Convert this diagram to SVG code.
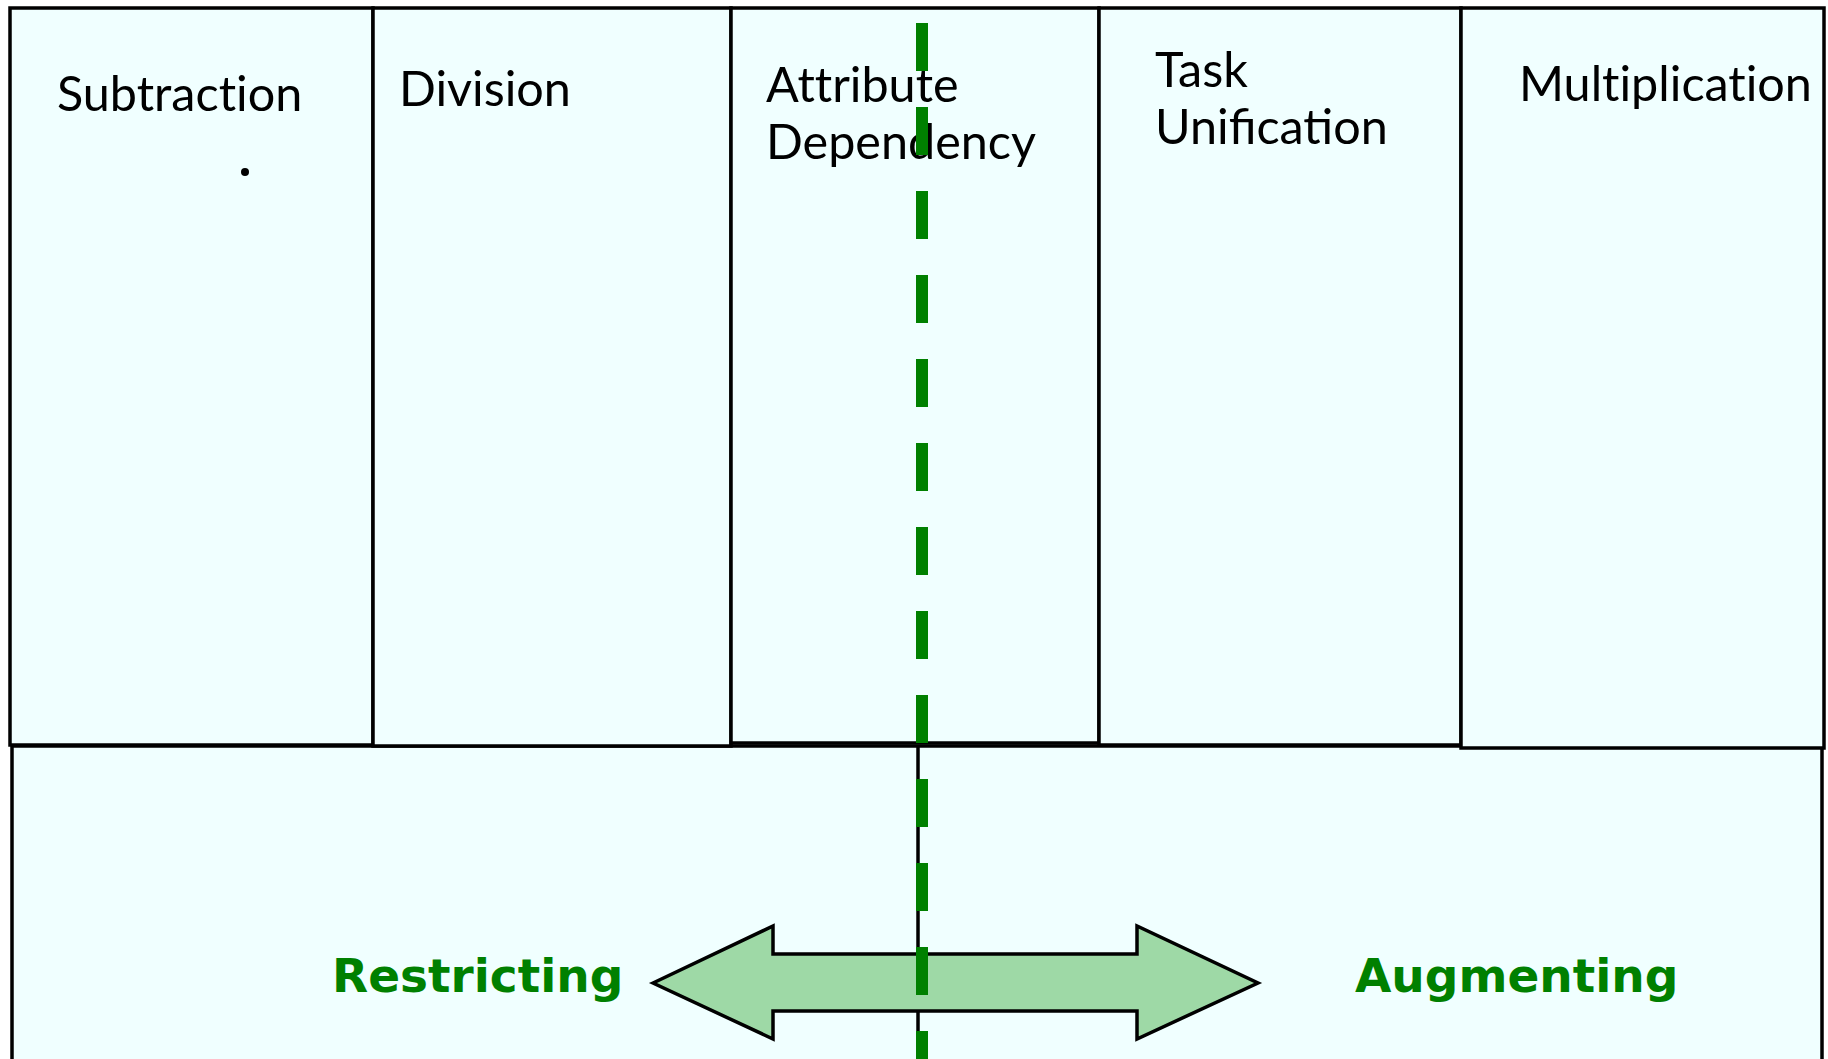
<svg xmlns="http://www.w3.org/2000/svg" width="1828" height="1059" viewBox="0 0 1828 1059">
  <style>
    .box { fill: #f0ffff; stroke: #000; stroke-width: 3.5; }
    .label { font-family: Lato, "Liberation Sans", sans-serif; font-size: 48.5px; fill: #000; }
    .plain { font-variant-ligatures: none; font-feature-settings: "liga" 0, "clig" 0; }
    .side { font-family: "DejaVu Sans", Verdana, sans-serif; font-weight: bold; font-size: 47px; fill: #008000; }
    .divider { stroke: #000; stroke-width: 3.5; fill: none; }
    .axis { stroke: #008000; stroke-width: 12; stroke-dasharray: 48 36; fill: none; }
    .twoway { fill: #9ed9a6; stroke: #000; stroke-width: 3.5; stroke-linejoin: miter; }
  </style>
  <rect width="1828" height="1059" fill="#ffffff"/>

  <!-- lower band -->
  <g id="lower-band">
    <rect class="box" x="12" y="746" width="1810" height="330"/>
  </g>

  <!-- upper row of categories -->
  <g id="subtraction">
    <rect class="box" x="10" y="8" width="363" height="737"/>
    <text class="label plain" x="57" y="111">Subtraction</text>
    <circle cx="245" cy="172" r="4" fill="#000"/>
  </g>
  <g id="division">
    <rect class="box" x="373" y="8" width="358" height="738"/>
    <text class="label" x="399" y="106">Division</text>
  </g>
  <g id="attribute-dependency">
    <rect class="box" x="731" y="8" width="368" height="735"/>
    <text class="label plain" x="766" y="102">Attribute</text>
    <text class="label" x="766" y="159">Dependency</text>
  </g>
  <g id="task-unification">
    <rect class="box" x="1099" y="8" width="362" height="737"/>
    <text class="label" x="1155" y="87">Task</text>
    <text class="label" x="1155" y="144">Unification</text>
  </g>
  <g id="multiplication">
    <rect class="box" x="1461" y="8" width="363" height="740"/>
    <text class="label plain" x="1519" y="101">Multiplication</text>
  </g>

  <!-- connectors -->
  <g id="connectors">
    <line class="divider" x1="918" y1="746" x2="918" y2="1059"/>
    <polygon class="twoway" points="653,983 773,926 773,954 1137,954 1137,926 1258,983 1137,1039 1137,1011 773,1011 773,1039"/>
    <line class="axis" x1="922" y1="23" x2="922" y2="1059"/>
  </g>

  <g id="restricting">
    <text class="side" x="332" y="992">Restricting</text>
  </g>
  <g id="augmenting">
    <text class="side" x="1355" y="992">Augmenting</text>
  </g>
</svg>
